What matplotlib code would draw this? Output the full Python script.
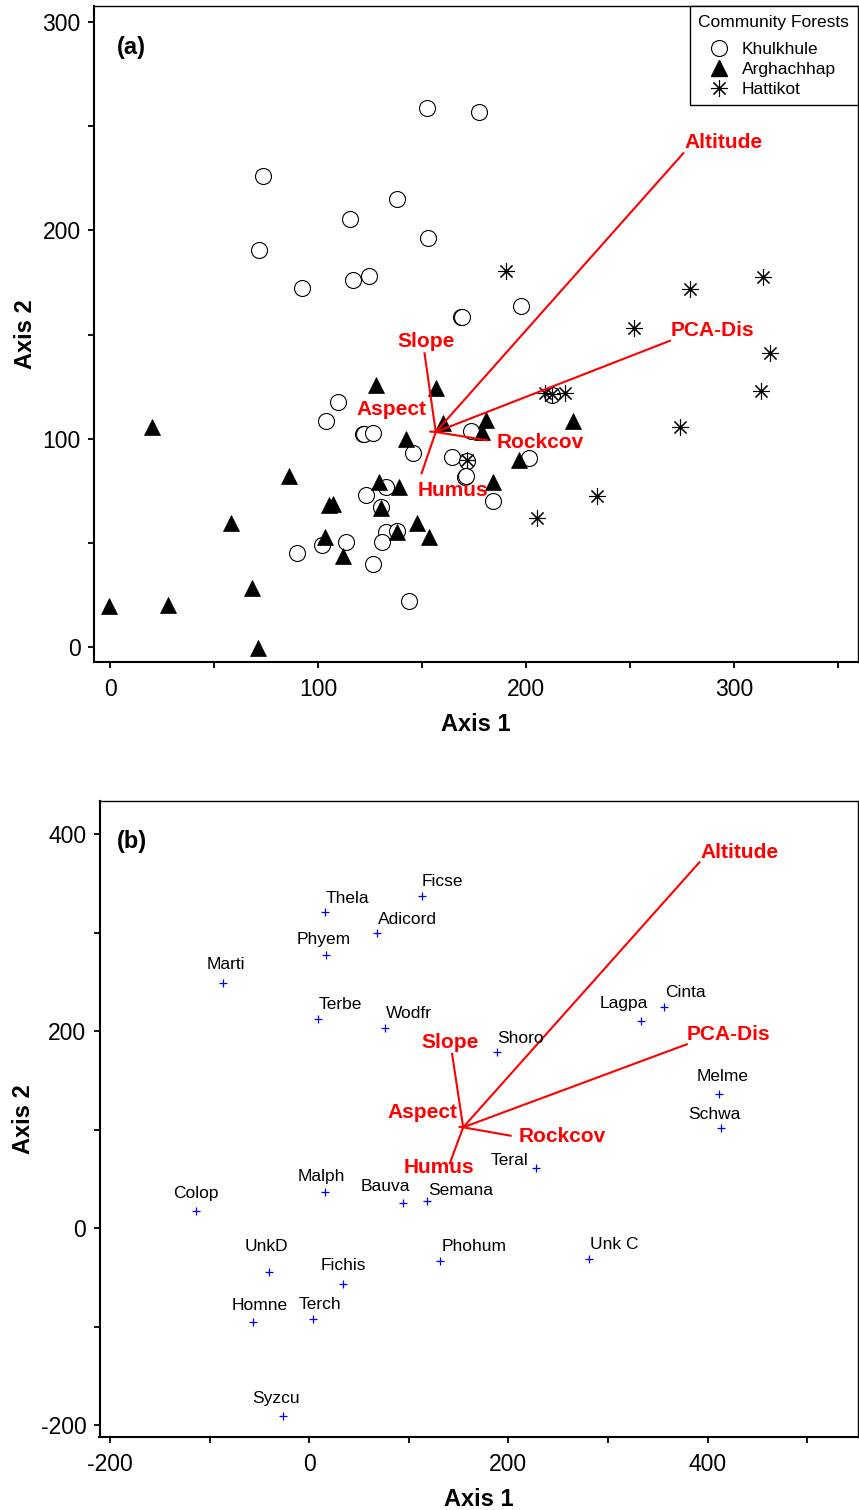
import matplotlib
matplotlib.use('Agg')
import matplotlib.pyplot as plt
from matplotlib.lines import Line2D

plt.rcParams['font.family'] = ['Liberation Sans', 'DejaVu Sans']

# ---- panel (a): sample scores by community forest ----
khul_x = [152.3, 177.4, 73.7, 137.8, 115.4, 152.7, 71.6, 92.5, 117.0, 124.7,
          168.8, 169.2, 197.6, 109.8, 103.8, 121.5, 122.0, 126.6, 173.4, 145.5,
          164.6, 171.5, 170.7, 171.0, 201.6, 132.7, 123.1, 130.3, 184.0, 132.7,
          137.8, 113.3, 101.8, 130.9, 89.7, 126.3, 143.9, 212.5]
khul_y = [258.6, 257.0, 226.3, 214.9, 205.6, 196.2, 190.7, 172.2, 176.0, 178.3,
          158.4, 158.6, 163.8, 117.5, 108.6, 102.1, 102.3, 102.6, 103.8, 93.3,
          91.1, 89.4, 81.8, 82.3, 90.6, 77.0, 73.1, 67.4, 70.2, 55.4,
          55.7, 50.6, 49.0, 50.6, 45.3, 39.7, 22.2, 121.0]

argh_x = [127.9, 156.7, 20.0, 160.0, 180.8, 178.7, 142.3, 196.8, 86.2, 129.2,
          139.1, 184.3, 105.4, 107.4, 130.3, 58.2, 147.8, 103.4, 138.0, 153.4,
          112.2, 68.3, -0.3, 28.0, 71.0, 222.4]
argh_y = [125.8, 124.2, 105.5, 107.4, 109.0, 103.4, 99.9, 89.8, 82.1, 79.4,
          77.0, 79.4, 68.2, 68.5, 66.6, 59.4, 59.4, 53.0, 55.4, 53.0,
          43.7, 28.2, 19.7, 20.2, -0.6, 108.3]

hatt_x = [190.2, 314.1, 278.8, 252.1, 317.3, 313.0, 209.1, 212.5, 218.8, 274.0,
          234.0, 205.2, 171.5]
hatt_y = [180.5, 177.8, 171.7, 153.3, 141.3, 123.0, 122.0, 121.5, 122.0, 105.5,
          72.5, 62.0, 89.6]

env_names = ['Altitude', 'PCA-Dis', 'Slope', 'Aspect', 'Rockcov', 'Humus']
env_origin_a = (156.6, 103.2)
env_end_a_x = [275.6, 269.2, 151.2, 154.0, 181.5, 149.8]
env_end_a_y = [237.0, 147.0, 141.0, 103.4, 99.2, 83.4]

# ---- panel (b): species scores ----
species = ['Ficse', 'Thela', 'Adicord', 'Phyem', 'Marti', 'Terbe', 'Wodfr', 'Shoro',
           'Cinta', 'Lagpa', 'Melme', 'Schwa', 'Teral', 'Malph', 'Colop', 'Bauva',
           'Semana', 'UnkD', 'Phohum', 'Unk C', 'Fichis', 'Homne', 'Terch', 'Syzcu']
sp_x = [112.8, 15.6, 67.8, 16.6, -86.9, 8.5, 75.9, 188.1,
        356.6, 333.2, 411.6, 413.6, 227.3, 15.6, -113.7, 93.8,
        118.2, -40.1, 131.5, 280.5, 33.6, -56.2, 4.1, -26.0]
sp_y = [337.7, 320.8, 299.5, 277.5, 248.7, 212.5, 203.7, 179.3,
        225.0, 210.8, 136.3, 101.5, 61.5, 36.5, 17.6, 25.4,
        27.7, -44.7, -32.9, -31.2, -56.5, -94.8, -92.1, -190.6]

env_origin_b = (154.6, 102.5)
env_end_b_x = [391.8, 379.1, 143.5, 151.0, 202.2, 141.2]
env_end_b_y = [371.6, 186.8, 177.0, 103.0, 94.0, 66.0]

# label placement (style only)
env_lab_a = {'Altitude': (276, 242.4, 'left'), 'PCA-Dis': (269.6, 152.0, 'left'),
             'Slope': (151.9, 146.6, 'center'), 'Aspect': (135.4, 113.8, 'center'),
             'Rockcov': (185.9, 98.1, 'left'), 'Humus': (164.7, 75.0, 'center')}
env_lab_b = {'Altitude': (392.5, 381.3, 'left'), 'PCA-Dis': (379.1, 197.0, 'left'),
             'Slope': (141.7, 188.4, 'center'), 'Aspect': (113.9, 117.8, 'center'),
             'Rockcov': (210.6, 92.7, 'left'), 'Humus': (130.4, 61.5, 'center')}
sp_lab = {'Ficse': ('left', 0, 10), 'Thela': ('left', 1, 9), 'Adicord': ('left', 1, 9),
          'Phyem': ('center', -2, 11), 'Marti': ('center', 3, 14), 'Terbe': ('left', 1, 10),
          'Wodfr': ('left', 1, 10), 'Shoro': ('left', 1, 9), 'Cinta': ('left', 1, 10),
          'Lagpa': ('center', -17, 13), 'Melme': ('center', 3, 13), 'Schwa': ('center', -7, 9),
          'Teral': ('right', -7, 3), 'Malph': ('center', -3, 11), 'Colop': ('center', 0, 13),
          'Bauva': ('right', 8, 12), 'Semana': ('left', 1, 6), 'UnkD': ('center', -3, 21),
          'Phohum': ('left', 1, 10), 'Unk C': ('left', 1, 10), 'Fichis': ('center', 1, 14),
          'Homne': ('center', 6, 12), 'Terch': ('center', 7, 10), 'Syzcu': ('center', -7, 13)}

fig = plt.figure(figsize=(8.59, 15.10), dpi=100)
ax1 = fig.add_axes([94 / 859, 1 - 661.7 / 1510, 764 / 859, 655.7 / 1510])
ax2 = fig.add_axes([99.5 / 859, 1 - 1436.7 / 1510, 758.5 / 859, 635.7 / 1510])

star = (8, 2, 0)
ax1.plot(khul_x, khul_y, 'o', ms=11.5, mfc='white', mec='black', mew=0.8, ls='none', zorder=3)
ax1.plot(argh_x, argh_y, '^', ms=11.5, mfc='black', mec='black', mew=0.5, ls='none', zorder=3)
ax1.plot(hatt_x, hatt_y, ls='none', marker=star, ms=12, mec='black', mew=0.8, zorder=3)

for i, name in enumerate(env_names):
    ax1.plot([env_origin_a[0], env_end_a_x[i]], [env_origin_a[1], env_end_a_y[i]],
             color='red', lw=1.5, zorder=4)
    lx, ly, ha = env_lab_a[name]
    ax1.text(lx, ly, name, color='red', fontsize=15, fontweight='bold',
             ha=ha, va='center', zorder=5)

handles = [Line2D([], [], ls='none', marker='o', ms=11.5, mfc='white', mec='black', mew=0.8),
           Line2D([], [], ls='none', marker='^', ms=11.5, mfc='black', mec='black'),
           Line2D([], [], ls='none', marker=star, ms=12, mec='black', mew=0.8)]
leg = ax1.legend(handles, ['Khulkhule', 'Arghachhap', 'Hattikot'], title='Community Forests',
                 loc='upper right', borderaxespad=0, fontsize=12.5, title_fontsize=12.5,
                 frameon=True, fancybox=False, edgecolor='black', framealpha=1,
                 handlelength=2.4, handletextpad=0.1, labelspacing=0.28,
                 borderpad=0.5, alignment='left')
leg.get_frame().set_linewidth(1.0)
# a bit more room between the title and the first entry
leg._legend_box.sep = 0.28 * 12.5 + 5

ax1.text(0.030, 0.936, '(a)', transform=ax1.transAxes, fontsize=17,
         fontweight='bold', ha='left', va='center')

ax1.set_xlim(-7.7, 359.6)
ax1.set_ylim(-7.06, 307.7)
ax1.set_xticks(range(0, 351, 50))
ax1.set_xticklabels(['0', '', '100', '', '200', '', '300', ''])
ax1.set_yticks(range(0, 301, 50))
ax1.set_yticklabels(['0', '', '100', '', '200', '', '300'])
ax1.set_xlabel('Axis 1', fontsize=17, fontweight='bold', labelpad=9)
ax1.set_ylabel('Axis 2', fontsize=17, fontweight='bold', labelpad=4)

# panel (b)
ax2.plot(sp_x, sp_y, '+', color='blue', ms=6, mew=0.9, ls='none', zorder=3)
for i, name in enumerate(species):
    ha, dx, dy = sp_lab[name]
    ax2.annotate(name, (sp_x[i], sp_y[i]), xytext=(dx, dy), textcoords='offset pixels',
                 ha=ha, va='baseline', fontsize=12.5, color='black', zorder=5)

for i, name in enumerate(env_names):
    ax2.plot([env_origin_b[0], env_end_b_x[i]], [env_origin_b[1], env_end_b_y[i]],
             color='red', lw=1.5, zorder=4)
    lx, ly, ha = env_lab_b[name]
    ax2.text(lx, ly, name, color='red', fontsize=15, fontweight='bold',
             ha=ha, va='center', zorder=5)

ax2.text(0.023, 0.936, '(b)', transform=ax2.transAxes, fontsize=17,
         fontweight='bold', ha='left', va='center')

ax2.set_xlim(-210.5, 551)
ax2.set_ylim(-211.6, 433.8)
ax2.set_xticks(range(-200, 501, 100))
ax2.set_xticklabels(['-200', '', '0', '', '200', '', '400', ''])
ax2.set_yticks(range(-200, 401, 100))
ax2.set_yticklabels(['-200', '', '0', '', '200', '', '400'])
ax2.set_xlabel('Axis 1', fontsize=17, fontweight='bold', labelpad=9)
ax2.set_ylabel('Axis 2', fontsize=17, fontweight='bold', labelpad=4)

for ax in (ax1, ax2):
    ax.tick_params(axis='both', direction='out', length=4.5, width=1.3,
                   labelsize=16.5, pad=5, top=False, right=False)
    ax.tick_params(axis='x', pad=7)
    for side in ('left', 'bottom'):
        ax.spines[side].set_linewidth(1.5)
    for side in ('top', 'right'):
        ax.spines[side].set_linewidth(1.0)

fig.savefig('out.png', dpi=100)
